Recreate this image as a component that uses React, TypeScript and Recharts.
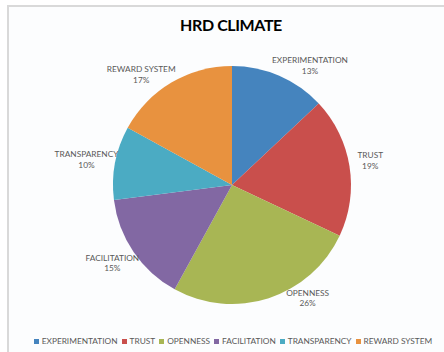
import { PieChart, Pie, Cell, Legend } from "recharts";

const FACTORS = [
  "EXPERIMENTATION",
  "TRUST",
  "OPENNESS",
  "FACILITATION",
  "TRANSPARENCY",
  "REWARD SYSTEM",
];
const SHARES = [13, 19, 26, 15, 10, 17];

const COLORS = ["#4584BE", "#C94F4C", "#A8B654", "#8268A3", "#4BABC3", "#E8923F"];

// Excel-style "best fit" label placement: radial point plus a small nudge per slice
const LABEL_NUDGE: [number, number][] = [
  [22, 9],
  [-1, -3],
  [32, -22],
  [-3, -2],
  [-7, 0],
  [-19, 10],
];

const FONT = "Lato, 'Open Sans', sans-serif";
const TEXT_GREY = "#595959";
const SMALL = "8.3px";

const chartData = FACTORS.map((name, i) => ({ name, value: SHARES[i] }));

const renderLabel = ({ cx, cy, midAngle, outerRadius, index, name, value }: any) => {
  const RADIAN = Math.PI / 180;
  const r = outerRadius + 22;
  const [dx, dy] = LABEL_NUDGE[index] || [0, 0];
  const x = cx + r * Math.cos(-midAngle * RADIAN) + dx;
  const y = cy + r * Math.sin(-midAngle * RADIAN) + dy;
  return (
    <text x={x} y={y} fill={TEXT_GREY} textAnchor="middle"
      style={{ fontSize: SMALL, fontFamily: FONT }}>
      <tspan x={x} dy="-1.5">{name}</tspan>
      <tspan x={x} dy="10.5">{`${value}%`}</tspan>
    </text>
  );
};

// legend kept in series order (Recharts 3 sorts by name otherwise)
const renderLegend = () => (
  <div style={{
    display: "flex", justifyContent: "center", alignItems: "center", gap: 4,
    whiteSpace: "nowrap", fontFamily: FONT, fontSize: SMALL, color: TEXT_GREY, lineHeight: "12px",
  }}>
    {FACTORS.map((name, i) => (
      <span key={name} style={{ display: "inline-flex", alignItems: "center" }}>
        <span style={{ display: "inline-block", width: 5, height: 5, background: COLORS[i], marginRight: 3 }} />
        {name}
      </span>
    ))}
  </div>
);

export default function App() {
  return (
    <div style={{ position: "absolute", left: 0, top: 0, width: 444, height: 352, background: "#fff" }}>
      <div style={{
        position: "absolute", left: 7, top: 5, width: 437, height: 347,
        borderLeft: "2px solid #d9d9d9", borderTop: "2px solid #d9d9d9",
        background: "#fcfdfe",
      }} />
      <div style={{
        position: "absolute", left: 0, top: 15, width: 462, textAlign: "center",
        fontFamily: FONT, fontWeight: 700, fontSize: "16px", letterSpacing: "-0.4px",
        lineHeight: "20px", color: "#000",
      }}>
        HRD CLIMATE
      </div>
      <div style={{ position: "absolute", left: 0, top: 0 }}>
        <PieChart width={444} height={352} margin={{ top: 0, right: 0, bottom: 0, left: 0 }}>
          <Pie data={chartData} dataKey="value" nameKey="name"
            cx={232} cy={185} outerRadius={119}
            startAngle={90} endAngle={-270}
            label={renderLabel} labelLine={false}
            stroke="none" isAnimationActive={false}>
            {chartData.map((entry, index) => (
              <Cell key={`cell-${index}`} fill={COLORS[index % COLORS.length]} />
            ))}
          </Pie>
          <Legend content={renderLegend}
            wrapperStyle={{ left: 0, top: 335, width: 466 }} />
        </PieChart>
      </div>
    </div>
  );
}
